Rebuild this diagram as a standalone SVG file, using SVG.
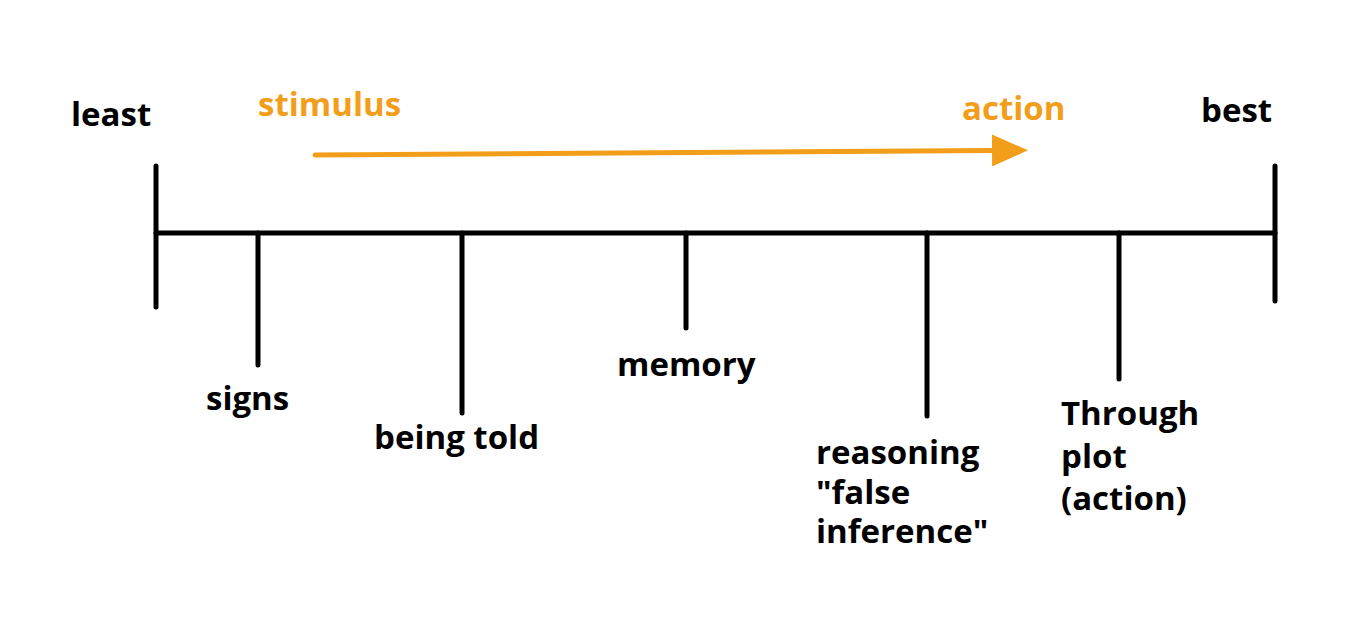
<svg xmlns="http://www.w3.org/2000/svg" width="1367" height="631" viewBox="0 0 1367 631">
<style>
.lbl{font-family:"Open Sans","Liberation Sans",sans-serif;font-weight:bold;font-size:33px;fill:#000}
.or{fill:#F29E1B}
.ln{stroke:#000;stroke-width:5;stroke-linecap:round;fill:none}
</style>
<defs>
<marker id="ah" viewBox="0 0 36 32" refX="0" refY="16" markerWidth="36" markerHeight="32" markerUnits="userSpaceOnUse" orient="auto">
<path d="M0,0 L36,16 L0,32 Z" fill="#F29E1B"/>
</marker>
</defs>
<rect width="1367" height="631" fill="#fff"/>
<g id="connectors">
<line class="ln" x1="156" y1="233" x2="1275" y2="233"/>
<line class="ln" x1="156" y1="166" x2="156" y2="307"/>
<line class="ln" x1="1275" y1="166" x2="1275" y2="301"/>
<line class="ln" x1="258" y1="233" x2="258" y2="365"/>
<line class="ln" x1="462" y1="233" x2="462" y2="413"/>
<line class="ln" x1="686" y1="233" x2="686" y2="328"/>
<line class="ln" x1="927" y1="233" x2="927" y2="416"/>
<line class="ln" x1="1119" y1="233" x2="1119" y2="379"/>
<line x1="315" y1="155" x2="992" y2="150.5" stroke="#F29E1B" stroke-width="5" stroke-linecap="round" marker-end="url(#ah)"/>
</g>
<g id="least"><text class="lbl" x="71" y="126">least</text></g>
<g id="best"><text class="lbl" x="1201" y="122">best</text></g>
<g id="stimulus"><text class="lbl or" x="258" y="116">stimulus</text></g>
<g id="action"><text class="lbl or" x="962" y="120">action</text></g>
<g id="signs"><text class="lbl" x="206" y="410">signs</text></g>
<g id="being-told"><text class="lbl" x="374" y="449">being told</text></g>
<g id="memory"><text class="lbl" x="617" y="376">memory</text></g>
<g id="reasoning"><text class="lbl" x="816" y="464">reasoning<tspan x="816" dy="39.5">"false</tspan><tspan x="816" dy="39.5">inference"</tspan></text></g>
<g id="through-plot"><text class="lbl" x="1061" y="425">Through<tspan x="1061" dy="42.5">plot</tspan><tspan x="1061" dy="42.5">(action)</tspan></text></g>
</svg>
